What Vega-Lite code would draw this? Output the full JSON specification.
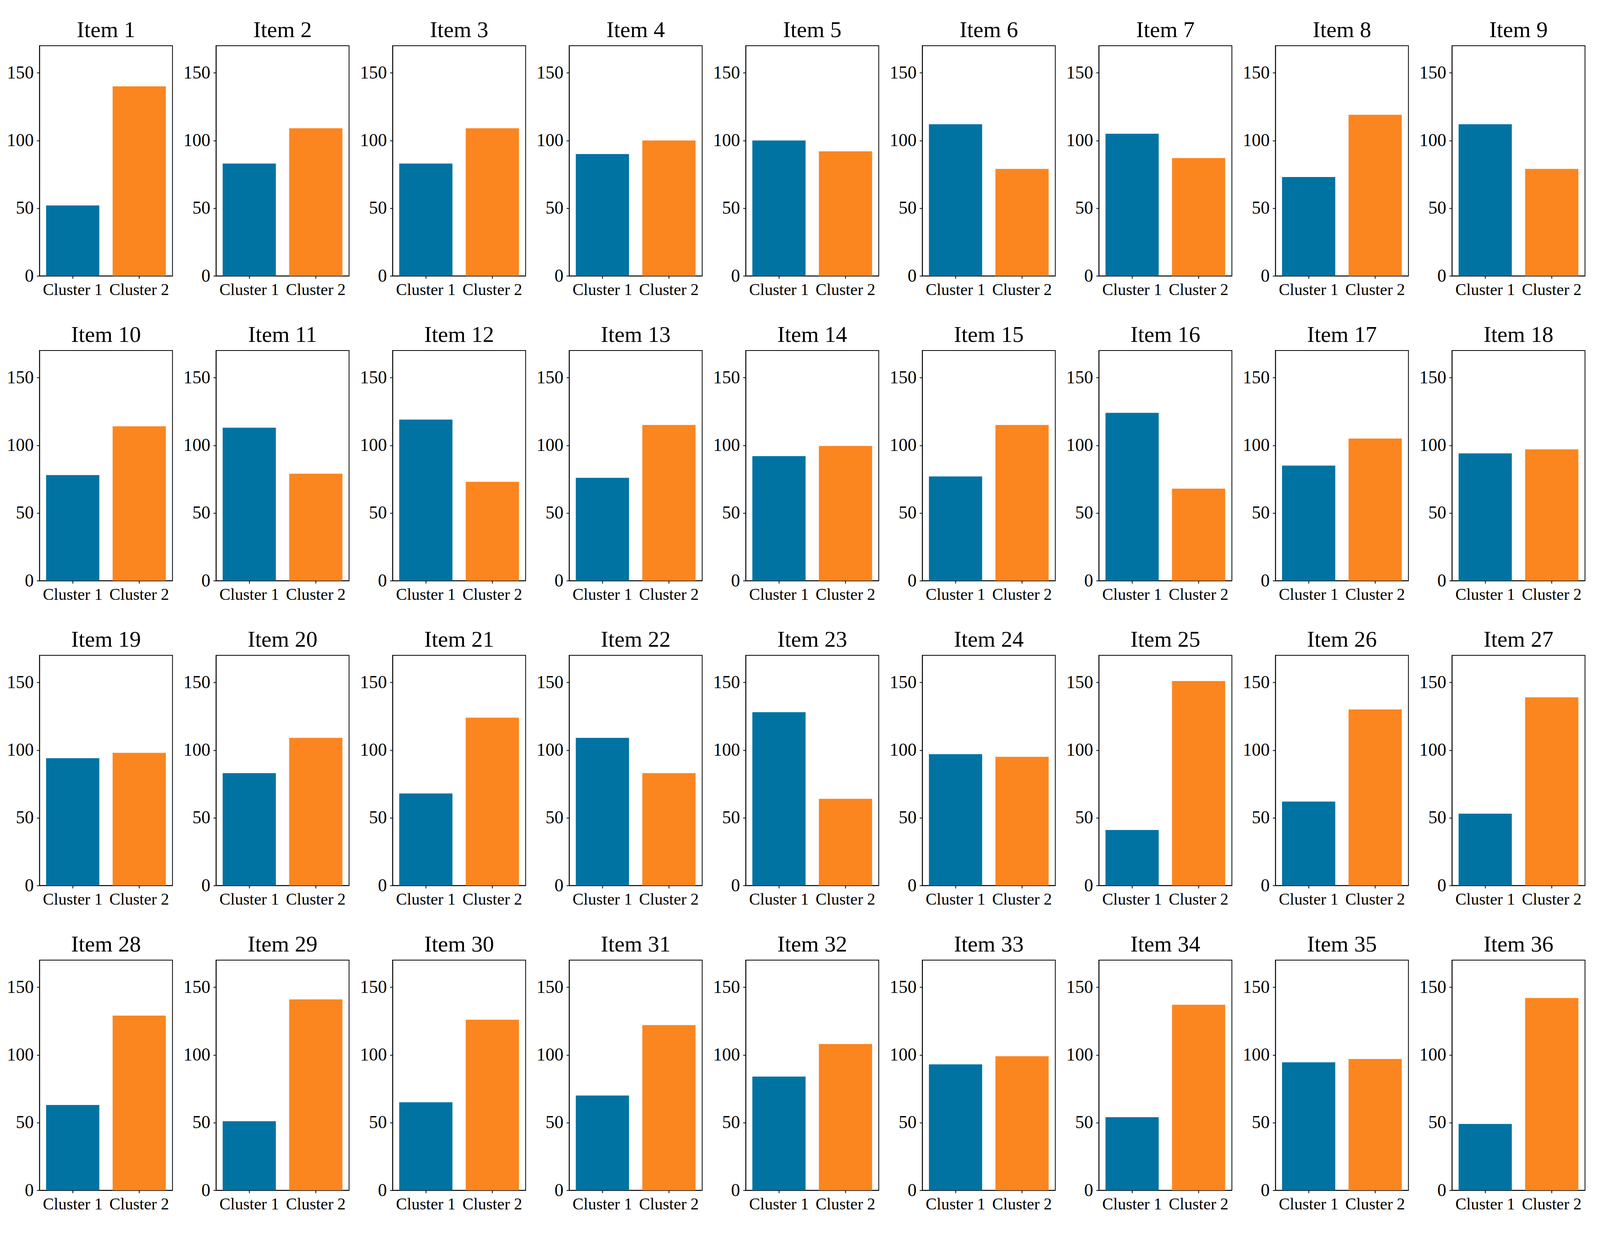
{
  "$schema": "https://vega.github.io/schema/vega-lite/v6.json",
  "background": "white",
  "padding": {"left": 16, "top": 48, "right": 42, "bottom": 10},
  "data": {"values": [
    {"item": "Item 1", "cluster": "Cluster 1", "value": 52}, {"item": "Item 1", "cluster": "Cluster 2", "value": 140},
    {"item": "Item 2", "cluster": "Cluster 1", "value": 83}, {"item": "Item 2", "cluster": "Cluster 2", "value": 109},
    {"item": "Item 3", "cluster": "Cluster 1", "value": 83}, {"item": "Item 3", "cluster": "Cluster 2", "value": 109},
    {"item": "Item 4", "cluster": "Cluster 1", "value": 90}, {"item": "Item 4", "cluster": "Cluster 2", "value": 100},
    {"item": "Item 5", "cluster": "Cluster 1", "value": 100}, {"item": "Item 5", "cluster": "Cluster 2", "value": 92},
    {"item": "Item 6", "cluster": "Cluster 1", "value": 112}, {"item": "Item 6", "cluster": "Cluster 2", "value": 79},
    {"item": "Item 7", "cluster": "Cluster 1", "value": 105}, {"item": "Item 7", "cluster": "Cluster 2", "value": 87},
    {"item": "Item 8", "cluster": "Cluster 1", "value": 73}, {"item": "Item 8", "cluster": "Cluster 2", "value": 119},
    {"item": "Item 9", "cluster": "Cluster 1", "value": 112}, {"item": "Item 9", "cluster": "Cluster 2", "value": 79},
    {"item": "Item 10", "cluster": "Cluster 1", "value": 78}, {"item": "Item 10", "cluster": "Cluster 2", "value": 114},
    {"item": "Item 11", "cluster": "Cluster 1", "value": 113}, {"item": "Item 11", "cluster": "Cluster 2", "value": 79},
    {"item": "Item 12", "cluster": "Cluster 1", "value": 119}, {"item": "Item 12", "cluster": "Cluster 2", "value": 73},
    {"item": "Item 13", "cluster": "Cluster 1", "value": 76}, {"item": "Item 13", "cluster": "Cluster 2", "value": 115},
    {"item": "Item 14", "cluster": "Cluster 1", "value": 92}, {"item": "Item 14", "cluster": "Cluster 2", "value": 99.5},
    {"item": "Item 15", "cluster": "Cluster 1", "value": 77}, {"item": "Item 15", "cluster": "Cluster 2", "value": 115},
    {"item": "Item 16", "cluster": "Cluster 1", "value": 124}, {"item": "Item 16", "cluster": "Cluster 2", "value": 68},
    {"item": "Item 17", "cluster": "Cluster 1", "value": 85}, {"item": "Item 17", "cluster": "Cluster 2", "value": 105},
    {"item": "Item 18", "cluster": "Cluster 1", "value": 94}, {"item": "Item 18", "cluster": "Cluster 2", "value": 97},
    {"item": "Item 19", "cluster": "Cluster 1", "value": 94}, {"item": "Item 19", "cluster": "Cluster 2", "value": 98},
    {"item": "Item 20", "cluster": "Cluster 1", "value": 83}, {"item": "Item 20", "cluster": "Cluster 2", "value": 109},
    {"item": "Item 21", "cluster": "Cluster 1", "value": 68}, {"item": "Item 21", "cluster": "Cluster 2", "value": 124},
    {"item": "Item 22", "cluster": "Cluster 1", "value": 109}, {"item": "Item 22", "cluster": "Cluster 2", "value": 83},
    {"item": "Item 23", "cluster": "Cluster 1", "value": 128}, {"item": "Item 23", "cluster": "Cluster 2", "value": 64},
    {"item": "Item 24", "cluster": "Cluster 1", "value": 97}, {"item": "Item 24", "cluster": "Cluster 2", "value": 95},
    {"item": "Item 25", "cluster": "Cluster 1", "value": 41}, {"item": "Item 25", "cluster": "Cluster 2", "value": 151},
    {"item": "Item 26", "cluster": "Cluster 1", "value": 62}, {"item": "Item 26", "cluster": "Cluster 2", "value": 130},
    {"item": "Item 27", "cluster": "Cluster 1", "value": 53}, {"item": "Item 27", "cluster": "Cluster 2", "value": 139},
    {"item": "Item 28", "cluster": "Cluster 1", "value": 63}, {"item": "Item 28", "cluster": "Cluster 2", "value": 129},
    {"item": "Item 29", "cluster": "Cluster 1", "value": 51}, {"item": "Item 29", "cluster": "Cluster 2", "value": 141},
    {"item": "Item 30", "cluster": "Cluster 1", "value": 65}, {"item": "Item 30", "cluster": "Cluster 2", "value": 126},
    {"item": "Item 31", "cluster": "Cluster 1", "value": 70}, {"item": "Item 31", "cluster": "Cluster 2", "value": 122},
    {"item": "Item 32", "cluster": "Cluster 1", "value": 84}, {"item": "Item 32", "cluster": "Cluster 2", "value": 108},
    {"item": "Item 33", "cluster": "Cluster 1", "value": 93}, {"item": "Item 33", "cluster": "Cluster 2", "value": 99},
    {"item": "Item 34", "cluster": "Cluster 1", "value": 54}, {"item": "Item 34", "cluster": "Cluster 2", "value": 137},
    {"item": "Item 35", "cluster": "Cluster 1", "value": 94.5}, {"item": "Item 35", "cluster": "Cluster 2", "value": 97},
    {"item": "Item 36", "cluster": "Cluster 1", "value": 49}, {"item": "Item 36", "cluster": "Cluster 2", "value": 142}
  ]},
  "facet": {
    "field": "item",
    "type": "ordinal",
    "sort": ["Item 1","Item 2","Item 3","Item 4","Item 5","Item 6","Item 7","Item 8","Item 9","Item 10","Item 11","Item 12","Item 13","Item 14","Item 15","Item 16","Item 17","Item 18","Item 19","Item 20","Item 21","Item 22","Item 23","Item 24","Item 25","Item 26","Item 27","Item 28","Item 29","Item 30","Item 31","Item 32","Item 33","Item 34","Item 35","Item 36"],
    "header": {"title": null, "labelFont": "Liberation Serif", "labelFontSize": 58, "labelColor": "black", "labelPadding": 10}
  },
  "columns": 9,
  "spacing": {"row": 191, "column": 111},
  "bounds": "flush",
  "spec": {
    "width": 340.6,
    "height": 589,
    "mark": {"type": "bar"},
    "encoding": {
      "x": {"field": "cluster", "type": "nominal", "scale": {"paddingInner": 0.2, "paddingOuter": 0.1}, "axis": {"title": null, "labelAngle": 0, "labelFontSize": 42}},
      "y": {"field": "value", "type": "quantitative", "scale": {"domain": [0, 170], "nice": false}, "axis": {"title": null, "values": [0, 50, 100, 150]}},
      "color": {"field": "cluster", "type": "nominal", "scale": {"domain": ["Cluster 1", "Cluster 2"], "range": ["#0173A2", "#FB851F"]}, "legend": null}
    }
  },
  "resolve": {"axis": {"x": "independent", "y": "independent"}},
  "config": {
    "view": {"stroke": "black", "strokeWidth": 2},
    "axis": {
      "grid": false,
      "domainColor": "black",
      "domainWidth": 2,
      "tickColor": "black",
      "tickWidth": 2,
      "tickSize": 7,
      "labelFont": "Liberation Serif",
      "labelFontSize": 46,
      "labelColor": "black",
      "labelPadding": 8,
      "labelLimit": 0
    }
  }
}
